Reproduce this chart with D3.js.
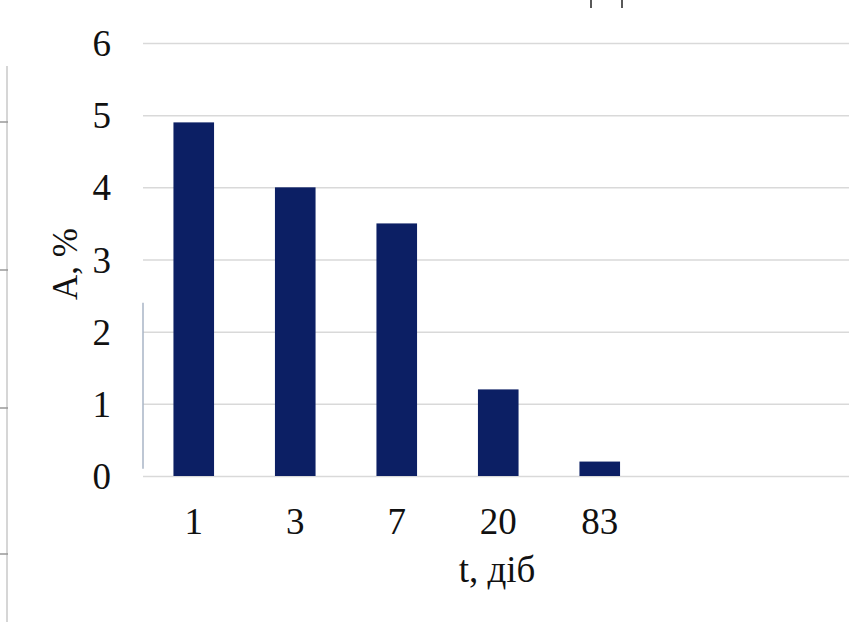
<!DOCTYPE html>
<html>
<head>
<meta charset="utf-8">
<script src="https://cdn.jsdelivr.net/npm/d3@7"></script>
<style>
  html, body { margin: 0; padding: 0; background: #fff; }
  svg { display: block; }
</style>
</head>
<body>
<svg id="chart" width="849" height="622"></svg>
<script>
// Absorption A (%) against exposure time t (days)
const categories = ["1", "3", "7", "20", "83"];
const values = [4.9, 4.0, 3.5, 1.2, 0.2];
const yTicks = [0, 1, 2, 3, 4, 5, 6];
const xTitle = "t, діб";
const yTitle = "A, %";

const svg = d3.select("#chart");
const W = 849, H = 622;
const plot = { left: 143, right: 849, top: 43, bottom: 476 };
const step = 101.5;
const fontSize = 37;

const x = d3.scaleBand()
  .domain(categories)
  .range([plot.left, plot.left + step * 5])
  .paddingInner(0.6)
  .paddingOuter(0.3);

const y = d3.scaleLinear()
  .domain([0, 6])
  .range([plot.bottom, plot.top]);

// page frame remnants: left rule with ticks, short marks at top
const frame = svg.append("g").attr("stroke", "#c8c8c8").attr("stroke-width", 1.5);
frame.append("line").attr("x1", 7).attr("x2", 7).attr("y1", 66).attr("y2", H);
[122, 270, 408, 554].forEach(v => {
  frame.append("line").attr("x1", 0).attr("x2", 8).attr("y1", v).attr("y2", v).attr("stroke", "#999");
});
svg.append("g").attr("stroke", "#222").attr("stroke-width", 1.5)
  .selectAll("line").data([591, 622]).join("line")
  .attr("x1", d => d).attr("x2", d => d).attr("y1", 0).attr("y2", 8);

// horizontal gridlines
svg.append("g")
  .attr("transform", `translate(${plot.left},0)`)
  .call(d3.axisLeft(y).tickValues(yTicks).tickSize(-(plot.right - plot.left)).tickFormat(""))
  .call(g => g.select(".domain").remove())
  .call(g => g.selectAll(".tick line").attr("stroke", "#d9d9d9").attr("stroke-width", 1.5));

// partial vertical axis line
svg.append("line")
  .attr("x1", plot.left).attr("x2", plot.left)
  .attr("y1", y(2.4)).attr("y2", y(0.1))
  .attr("stroke", "#a9b4c6").attr("stroke-width", 1.5);

// bars
svg.append("g")
  .selectAll("rect")
  .data(categories.map((c, i) => ({ c, v: values[i] })))
  .join("rect")
  .attr("x", d => x(d.c))
  .attr("width", x.bandwidth())
  .attr("y", d => y(d.v))
  .attr("height", d => y(0) - y(d.v))
  .attr("fill", "#0c1f64");

// y tick labels (default page serif face)
svg.append("g")
  .attr("transform", `translate(111,0)`)
  .call(d3.axisLeft(y).tickValues(yTicks).tickSize(0).tickPadding(0).tickFormat(d3.format("d")))
  .attr("font-family", null)
  .attr("font-size", fontSize)
  .call(g => g.select(".domain").remove())
  .call(g => g.selectAll("text")
    .attr("fill", "#111")
    .attr("dy", "0.34em"));

// x tick labels
svg.append("g")
  .attr("transform", `translate(0,${plot.bottom})`)
  .call(d3.axisBottom(x).tickSize(0).tickPadding(0))
  .attr("font-family", null)
  .attr("font-size", fontSize)
  .call(g => g.select(".domain").remove())
  .call(g => g.selectAll("text")
    .attr("fill", "#111")
    .attr("y", 58)
    .attr("dy", 0));

// axis titles
svg.append("text")
  .attr("x", 497).attr("y", 582)
  .attr("text-anchor", "middle")
  .attr("fill", "#111")
  .attr("font-size", fontSize)
  .text(xTitle);

svg.append("text")
  .attr("transform", "translate(77,264) rotate(-90)")
  .attr("text-anchor", "middle")
  .attr("fill", "#111")
  .attr("font-size", fontSize - 2)
  .text(yTitle);
</script>
</body>
</html>
